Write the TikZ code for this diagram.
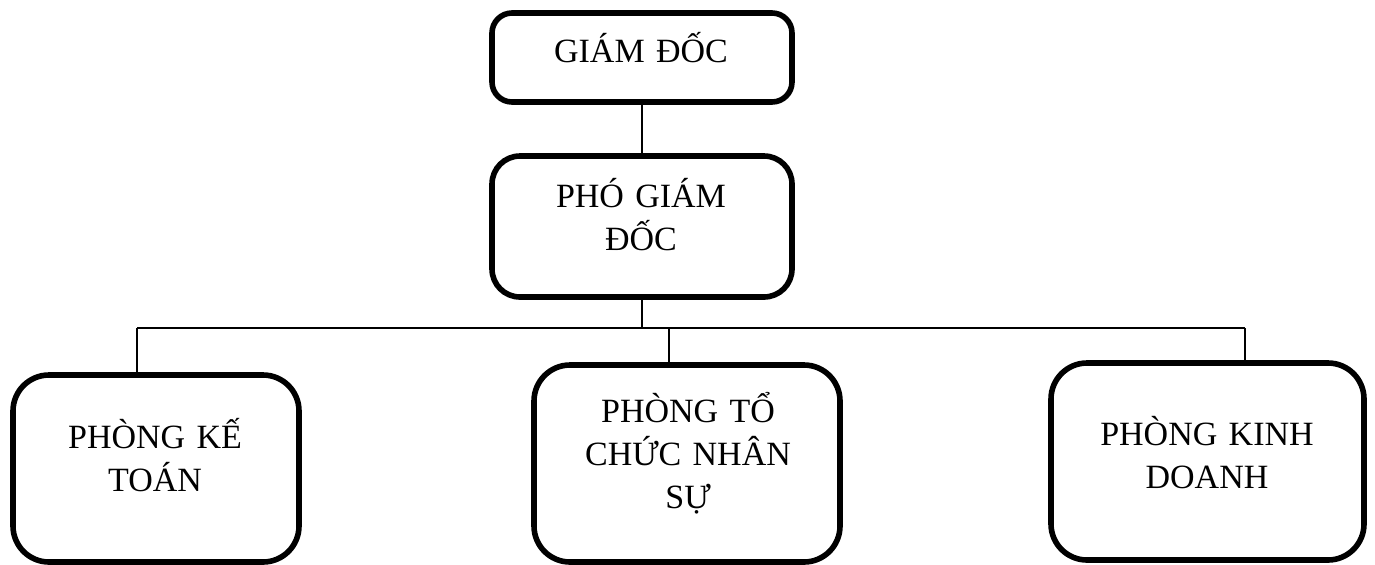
\documentclass[tikz,border=0pt]{standalone}
\usepackage{fontspec}
\setmainfont{Liberation Serif}
\begin{document}
\begin{tikzpicture}[x=0.5pt,y=-0.5pt,
  orgbox/.style={draw=black, line width=2.8pt, rounded corners=#1, inner sep=0pt},
  orgbox/.default=14pt,
  label/.style={anchor=base, align=center, text width=150pt, inner sep=0pt,
    font=\fontsize{17pt}{21.5pt}\selectfont},
  link/.style={draw=black, line width=0.9pt}]
\useasboundingbox (0,0) rectangle (1375,564);

% boxes
\node[orgbox=10pt, minimum width=150pt, minimum height=44.5pt] (gd) at (642,57.5) {};
\node[orgbox=14pt, minimum width=150pt, minimum height=70.5pt] (pgd) at (642,226.5) {};
\node[orgbox=18pt, minimum width=143pt, minimum height=93.5pt] (kt) at (156,468.5) {};
\node[orgbox=18pt, minimum width=153pt, minimum height=98.5pt] (ns) at (687,463.5) {};
\node[orgbox=18pt, minimum width=156.5pt, minimum height=98.5pt] (kd) at (1207.5,461.5) {};

% labels
\node[label] (tgd) at (641,62) {GIÁM ĐỐC};
\node[label] (tpgd) at (641,207) {PHÓ GIÁM\\ĐỐC};
\node[label] (tkt) at (155,448) {PHÒNG KẾ\\TOÁN};
\node[label] (tns) at (688,422) {PHÒNG TỔ\\CHỨC NHÂN\\SỰ};
\node[label] (tkd) at (1207,445) {PHÒNG KINH\\DOANH};

% connectors
\coordinate (busL) at (137,328);
\coordinate (busM) at (669,328);
\coordinate (busR) at (1245,328);
\draw[link] (gd.south) -- (pgd.north);
\draw[link] (pgd.south) -- (pgd.south |- busL);
\draw[link] (busL) -- (busR);
\draw[link] (busL) -- (busL |- kt.north);
\draw[link] (busM) -- (busM |- ns.north);
\draw[link] (busR) -- (busR |- kd.north);
\end{tikzpicture}
\end{document}
